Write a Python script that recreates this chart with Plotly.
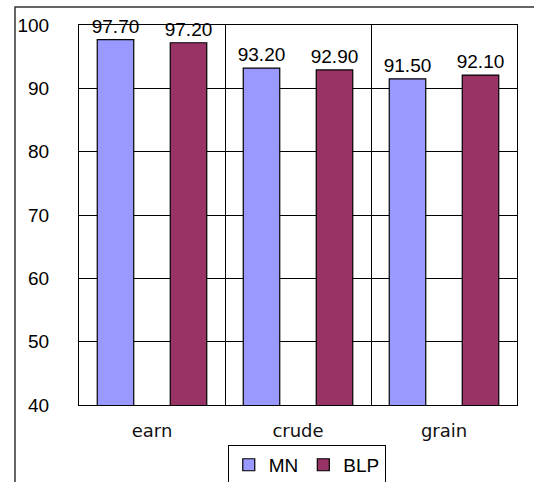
import plotly.graph_objects as go

categories = ["earn", "crude", "grain"]
mn_values = [97.70, 93.20, 91.50]
blp_values = [97.20, 92.90, 92.10]
y_ticks = [40, 50, 60, 70, 80, 90, 100]

FONT = "Liberation Sans"

fig = go.Figure()
fig.add_trace(go.Bar(
    name="MN", x=categories, y=mn_values,
    marker=dict(color="#9999FF", line=dict(color="black", width=1.2)),
    text=[f"{v:.2f}" for v in mn_values], textposition="outside",
    constraintext="none",
    textfont=dict(family=FONT, size=19, color="black"), cliponaxis=False,
))
fig.add_trace(go.Bar(
    name="BLP", x=categories, y=blp_values,
    marker=dict(color="#993366", line=dict(color="black", width=1.2)),
    text=[f"{v:.2f}" for v in blp_values], textposition="outside",
    constraintext="none",
    textfont=dict(family=FONT, size=19, color="black"), cliponaxis=False,
))

fig.update_layout(
    width=534, height=482,
    margin=dict(l=79, r=17, t=25, b=77, autoexpand=False),
    paper_bgcolor="white", plot_bgcolor="white",
    barmode="group", bargap=0.0, bargroupgap=0.5,
    font=dict(family=FONT, size=19, color="black"),
    showlegend=True,
    legend=dict(orientation="h", x=0.52, xanchor="center", y=-0.105, yanchor="top",
                bordercolor="black", borderwidth=1, bgcolor="white",
                font=dict(family=FONT, size=19), itemwidth=30,
                tracegroupgap=0),
)
fig.update_yaxes(range=[40, 100], tickvals=y_ticks, showgrid=True, gridcolor="black",
                 gridwidth=1, showline=True, linecolor="black", linewidth=1, mirror=True,
                 zeroline=False, ticks="", ticklabelstandoff=25,
                 tickfont=dict(family=FONT, size=19))
fig.update_xaxes(showgrid=True, gridcolor="black", gridwidth=1, tickson="boundaries",
                 showline=True, linecolor="black", linewidth=1, mirror=True,
                 ticks="", ticklabelstandoff=9,
                 tickfont=dict(family="DejaVu Sans", size=18, color="#111111"))

# outer chart-area frame
fig.add_shape(type="rect", xref="paper", yref="paper",
              x0=(15 - 79) / 438, x1=(545 - 79) / 438,
              y0=(405 - 495) / 380, y1=(405 - 7) / 380,
              line=dict(color="#333333", width=1.5), layer="below")

fig.write_html("out.html", config={"displayModeBar": False},
               post_script="document.body.style.margin='0';document.body.style.overflow='hidden';")
